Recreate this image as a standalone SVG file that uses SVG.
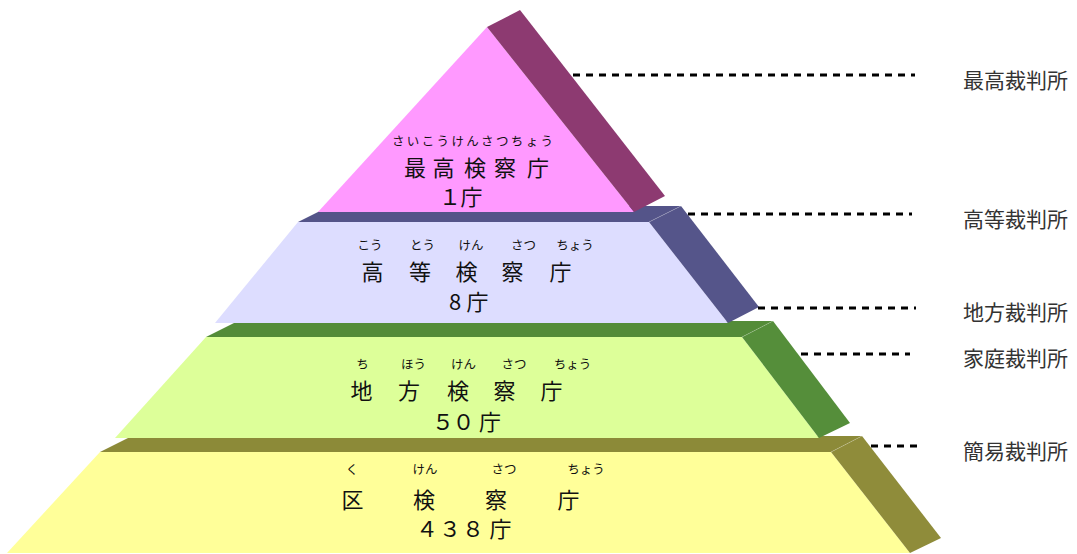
<svg xmlns="http://www.w3.org/2000/svg" width="1077" height="554" viewBox="0 0 1077 554">
<style>
text{font-family:"Noto Sans CJK JP","Noto Sans",sans-serif;fill:#111;dominant-baseline:central;text-anchor:middle}
.ruby{font-size:12.5px}
.main{font-size:22px}
.num{font-size:22px}
.lab{font-size:21px;fill:#333;text-anchor:start}
.edge{stroke:#ffffff;stroke-opacity:0.25;stroke-width:0.8;fill:none}
.dash{stroke:#000;stroke-width:3;stroke-dasharray:7 6;fill:none}
</style>
<rect width="1077" height="554" fill="#ffffff"/>
<g id="tier-ku">
<polygon points="100,452 132,436 862,436 831,452" fill="#8C8A38"/>
<polygon points="100,452 7,553 910,553 831,452" fill="#FFFF99"/>
<polygon points="831,452 862,436 941,538 910,553" fill="#8F8C3A"/>
<line class="edge" x1="831" y1="452" x2="862" y2="436"/>
<text class="ruby" x="352" y="468">く</text>
<text class="ruby" x="425" y="468">けん</text>
<text class="ruby" x="504" y="468">さつ</text>
<text class="ruby" x="586" y="468">ちょう</text>
<text class="main" x="352.5 424 496 568.5" y="498">区検察庁</text>
<text class="num" x="427 450 473 500.5" y="527">４３８庁</text>
</g>
<g id="tier-chiho">
<polygon points="206,337 238,321 773,321 742,337" fill="#548C38"/>
<polygon points="206,337 115,438 819,438 742,337" fill="#DDFF99"/>
<polygon points="742,337 773,321 850,423 819,438" fill="#558E3A"/>
<line class="edge" x1="742" y1="337" x2="773" y2="321"/>
<text class="ruby" x="362.5" y="363">ち</text>
<text class="ruby" x="413.5" y="363">ほう</text>
<text class="ruby" x="463.5" y="363">けん</text>
<text class="ruby" x="514" y="363">さつ</text>
<text class="ruby" x="572.5" y="363">ちょう</text>
<text class="main" x="361.5 409 458 504.5 551.5" y="389">地方検察庁</text>
<text class="num" x="443 463.5 490" y="420">５０庁</text>
</g>
<g id="tier-koto">
<polygon points="298,222 330,206 681,206 649,222" fill="#545489"/>
<polygon points="298,222 215,323 728,323 649,222" fill="#DDDDFF"/>
<polygon points="649,222 681,206 759,307 728,323" fill="#55558A"/>
<line class="edge" x1="649" y1="222" x2="681" y2="206"/>
<text class="ruby" x="370" y="244">こう</text>
<text class="ruby" x="422.5" y="244">とう</text>
<text class="ruby" x="471" y="244">けん</text>
<text class="ruby" x="523.5" y="244">さつ</text>
<text class="ruby" x="575" y="244">ちょう</text>
<text class="main" x="372.5 420 466.5 512.5 560.5" y="270">高等検察庁</text>
<text class="num" x="455 477.5" y="300">8庁</text>
</g>
<g id="tier-saiko">
<polygon points="487,27 318,212 634,212" fill="#FF99FF"/>
<polygon points="487,27 520,10 665,196 634,212" fill="#8D3A71"/>
<text class="ruby" x="472.5" y="140" font-size="13.5" textLength="161" lengthAdjust="spacing">さいこうけんさつちょう</text>
<text class="main" x="415 443.5 475 505 538" y="166">最高検察庁</text>
<text class="num" x="450 471.5" y="195">１庁</text>
</g>
<g id="connectors">
<line class="dash" x1="573" y1="75" x2="915" y2="75"/>
<line class="dash" x1="688" y1="214" x2="912" y2="214"/>
<line class="dash" x1="758" y1="308" x2="916" y2="308"/>
<line class="dash" x1="801" y1="354" x2="910" y2="354"/>
<line class="dash" x1="871" y1="446" x2="917" y2="446"/>
</g>
<g id="label-saiko"><text class="lab" x="963" y="79">最高裁判所</text></g>
<g id="label-koto"><text class="lab" x="963" y="218">高等裁判所</text></g>
<g id="label-chiho"><text class="lab" x="963" y="311">地方裁判所</text></g>
<g id="label-katei"><text class="lab" x="963" y="357">家庭裁判所</text></g>
<g id="label-kan-i"><text class="lab" x="963" y="450">簡易裁判所</text></g>
</svg>
